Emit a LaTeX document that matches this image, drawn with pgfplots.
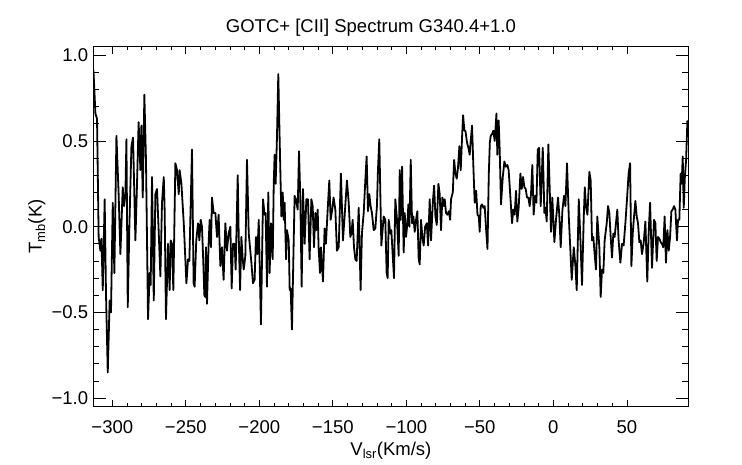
\documentclass[border=0pt]{standalone}
\usepackage{pgfplots}
\pgfplotsset{compat=1.18}
\usepackage{fontspec}
\setmainfont{Liberation Sans}
\begin{document}
\fontsize{18.5}{22}\selectfont
\begin{tikzpicture}
\useasboundingbox (-93.5pt,-57.3pt) rectangle (648.5pt,406.7pt);
\begin{axis}[
  at={(0,0)}, anchor=south west,
  scale only axis, width=594.8pt, height=360pt,
  xmin=-312.8, xmax=91.8, ymin=-1.05, ymax=1.05,
  xtick={-300,-250,-200,-150,-100,-50,0,50},
  xticklabels={−300,−250,−200,−150,−100,−50,0,50},
  ytick={-1,-0.5,0,0.5,1},
  yticklabels={−1.0,−0.5,0.0,0.5,1.0},
  minor x tick num=4, minor y tick num=4,
  xtick style={black, line width=0.7pt, /pgfplots/major tick length=7pt, /pgfplots/minor tick length=3.5pt},
  ytick style={black, line width=0.7pt, /pgfplots/major tick length=12pt, /pgfplots/minor tick length=6pt},
  axis line style={black, line width=0.8pt},
  xticklabel style={anchor=base, inner sep=0pt, yshift=-26.6pt},
  yticklabel style={anchor=east, inner sep=0pt, xshift=-5.2pt},
  title={GOTC+ [CII] Spectrum G340.4+1.0},
  title style={at={([xshift=-20pt]axis description cs:0.5,1)}, anchor=base, yshift=8.4pt, inner sep=0pt},
  xlabel={V\textsubscript{lsr}(Km/s)},
  ylabel={T\textsubscript{mb}(K)},
  every axis x label/.style={at={([yshift=-48.3pt]axis description cs:0.5,0)}, anchor=base, inner sep=0pt},
  every axis y label/.style={at={([xshift=-51.8pt]axis description cs:0,0.5)}, rotate=90, anchor=base, inner sep=0pt},
]
\addplot[black, line width=1.8pt, line join=round] table {
x y
-313.0 0.92
-312.7 0.89
-311.5 0.66
-310.4 0.63
-309.3 -0.06
-308.1 -0.14
-307.4 -0.07
-306.5 -0.37
-305.2 0.16
-304.3 -0.39
-303.1 -0.85
-301.8 -0.43
-300.9 -0.50
-299.7 0.14
-298.6 -0.27
-297.2 0.53
-295.7 0.19
-294.5 -0.16
-292.9 0.23
-292.0 0.12
-291.1 0.19
-290.4 0.51
-289.5 -0.47
-288.4 0.00
-287.0 0.47
-285.9 0.52
-284.3 -0.08
-283.2 0.25
-282.1 0.61
-280.9 0.33
-280.2 0.59
-279.3 0.17
-278.2 0.77
-277.1 0.39
-275.7 -0.54
-274.6 -0.27
-273.9 -0.34
-273.0 0.29
-271.8 -0.43
-270.7 0.19
-269.6 0.22
-268.4 -0.04
-267.3 -0.29
-266.2 0.14
-265.0 0.29
-264.4 0.10
-263.5 -0.54
-262.1 -0.10
-261.0 -0.37
-260.3 -0.08
-259.4 -0.10
-258.5 -0.37
-257.1 0.37
-256.0 0.33
-254.8 0.19
-254.2 0.33
-253.0 0.25
-251.4 0.02
-249.6 -0.33
-248.5 -0.19
-247.6 -0.20
-245.8 0.45
-244.7 -0.33
-244.0 -0.35
-242.9 -0.08
-241.7 0.02
-240.8 -0.08
-239.9 0.04
-239.0 0.00
-238.1 -0.21
-237.4 -0.40
-236.7 -0.41
-236.3 -0.12
-235.6 -0.45
-234.5 -0.10
-233.8 0.04
-232.9 -0.12
-232.2 0.17
-231.1 0.08
-229.9 0.08
-228.8 -0.06
-227.7 0.07
-226.5 -0.23
-225.4 -0.12
-224.3 -0.31
-223.1 0.02
-222.0 -0.14
-220.9 -0.04
-219.7 0.00
-218.8 -0.36
-217.9 -0.10
-216.8 -0.10
-216.1 -0.25
-214.7 0.30
-214.0 -0.06
-213.1 -0.37
-212.2 -0.06
-211.3 -0.19
-210.6 -0.25
-209.5 -0.17
-208.4 0.39
-207.2 -0.04
-205.4 -0.21
-204.3 -0.33
-203.2 -0.31
-202.3 -0.06
-201.3 -0.16
-200.4 0.04
-198.9 -0.57
-197.5 0.16
-196.4 0.07
-195.7 0.08
-194.8 -0.35
-193.9 0.20
-193.0 -0.27
-192.0 0.02
-190.9 -0.19
-190.2 0.25
-189.6 0.42
-188.9 0.25
-188.0 0.52
-187.1 0.89
-186.2 0.52
-185.0 0.06
-184.1 0.20
-183.4 0.04
-182.8 0.14
-181.8 -0.19
-181.2 -0.02
-180.0 -0.08
-179.35 -0.37
-178.7 -0.36
-177.8 -0.60
-176.0 0.18
-175.1 0.16
-173.9 0.10
-173.0 0.44
-172.1 0.16
-171.2 -0.35
-170.3 0.22
-169.2 -0.10
-168.0 0.16
-166.9 0.16
-165.8 -0.19
-164.6 0.16
-163.7 0.12
-162.8 -0.12
-161.9 0.08
-161.2 -0.02
-160.3 0.10
-159.7 -0.12
-158.7 -0.27
-158.1 -0.12
-156.7 -0.32
-155.6 -0.01
-154.7 -0.10
-153.5 0.10
-152.4 0.27
-151.5 0.04
-150.4 0.10
-149.5 0.17
-148.3 0.10
-147.2 -0.14
-146.0 -0.12
-144.5 0.31
-143.1 -0.08
-142.0 0.06
-140.4 0.27
-139.2 0.14
-138.1 -0.06
-137.4 -0.04
-136.5 0.04
-135.6 -0.12
-134.7 -0.19
-133.8 -0.20
-132.4 0.11
-131.1 -0.37
-130.2 -0.04
-129.0 0.08
-127.9 0.27
-127.0 0.41
-126.1 0.09
-125.2 0.19
-124.3 0.12
-123.4 0.08
-122.2 -0.02
-121.1 -0.01
-120.0 0.12
-119.3 0.33
-118.4 0.51
-117.0 -0.11
-115.4 0.06
-114.3 0.04
-113.4 -0.27
-112.7 -0.30
-112.0 0.04
-110.9 -0.04
-110.2 -0.02
-109.3 -0.16
-108.4 -0.30
-107.5 0.16
-106.5 0.06
-105.2 -0.17
-104.5 0.33
-103.8 0.04
-102.9 0.35
-101.8 -0.15
-101.1 0.08
-100.2 -0.06
-99.3 0.02
-98.6 0.13
-97.9 0.00
-97.0 0.39
-96.1 0.02
-95.2 0.06
-94.3 -0.03
-93.4 0.04
-92.5 0.09
-91.6 -0.19
-90.9 -0.22
-90.0 0.04
-89.1 -0.06
-88.2 -0.11
-87.2 0.00
-86.1 0.02
-85.2 -0.11
-84.1 0.16
-83.2 -0.08
-82.0 0.14
-81.1 0.24
-80.2 0.06
-79.3 0.01
-78.2 0.25
-77.3 0.19
-76.4 -0.02
-75.5 0.17
-74.5 0.12
-73.9 0.16
-73.0 0.08
-72.1 0.07
-71.1 0.09
-70.2 0.04
-69.6 0.16
-68.4 0.20
-67.5 0.39
-66.6 0.31
-65.7 0.28
-64.8 0.35
-63.9 0.47
-63.0 0.33
-62.1 0.52
-61.4 0.65
-60.5 0.56
-59.8 0.56
-58.7 0.49
-57.8 0.46
-56.9 0.42
-56.2 0.50
-55.3 0.59
-54.4 0.35
-53.5 0.14
-52.5 0.21
-51.6 0.07
-50.7 0.06
-50.1 -0.03
-49.4 0.12
-48.5 0.13
-47.6 0.11
-46.7 0.12
-45.7 -0.02
-44.8 -0.13
-43.9 0.31
-43.2 0.49
-42.6 0.53
-41.7 0.54
-40.8 0.56
-39.9 0.50
-38.7 0.66
-38.1 0.42
-37.2 0.62
-36.5 0.45
-35.6 0.13
-34.4 0.29
-33.3 0.38
-32.4 0.35
-31.3 0.36
-30.4 0.33
-29.2 0.17
-28.1 0.02
-27.2 0.10
-26.3 0.07
-25.4 0.21
-24.5 0.03
-23.6 0.11
-22.4 0.31
-21.5 0.22
-20.6 0.29
-19.7 0.23
-18.8 0.22
-17.9 0.17
-17.0 0.17
-16.1 0.12
-15.2 0.19
-14.3 0.36
-13.4 0.07
-12.4 0.18
-11.5 0.14
-10.6 0.45
-9.7 0.46
-8.6 0.12
-7.2 0.46
-6.1 0.08
-5.4 0.11
-4.5 0.03
-3.4 0.48
-2.5 0.23
-1.6 -0.03
-0.7 0.17
0.7 -0.09
1.8 0.04
3.2 0.17
4.1 0.06
5.0 -0.12
6.2 0.10
7.3 0.18
8.2 0.12
9.3 0.37
10.5 0.06
11.6 -0.14
12.5 -0.31
13.9 -0.12
15.0 -0.23
15.9 -0.37
17.3 0.16
18.6 -0.12
19.5 -0.34
20.7 0.06
21.4 0.23
22.3 0.11
23.2 0.07
24.5 0.32
25.4 0.27
26.3 -0.08
27.2 -0.06
28.1 -0.16
29.0 -0.25
29.9 0.06
31.3 -0.12
32.2 -0.41
33.1 -0.25
34.0 -0.27
34.9 -0.08
36.3 0.02
37.2 0.12
38.1 0.08
39.0 -0.06
39.9 -0.18
40.8 -0.04
41.7 -0.06
42.6 0.02
43.5 0.10
44.4 -0.08
45.6 -0.21
46.7 -0.10
47.8 -0.11
49.0 0.02
50.1 0.16
51.2 0.31
52.2 0.37
53.1 -0.23
54.0 -0.04
54.9 0.06
55.8 0.15
56.7 0.06
57.6 0.02
58.5 -0.09
59.4 -0.08
60.3 -0.16
61.5 -0.09
62.6 0.03
63.9 -0.32
64.9 -0.02
65.8 0.14
67.1 -0.24
68.5 0.04
69.4 0.02
70.3 -0.20
71.2 -0.06
72.1 -0.07
73.0 -0.09
73.9 -0.10
74.8 -0.12
75.7 0.06
76.6 -0.21
77.6 -0.02
78.5 -0.14
79.4 -0.06
80.3 0.09
81.2 0.10
82.1 0.12
83.0 0.10
84.1 -0.08
84.8 0.04
85.7 0.04
86.6 0.31
87.3 0.25
88.0 0.41
88.7 0.11
89.4 0.28
90.3 0.39
91.2 0.62
};
\end{axis}
\end{tikzpicture}
\end{document}
